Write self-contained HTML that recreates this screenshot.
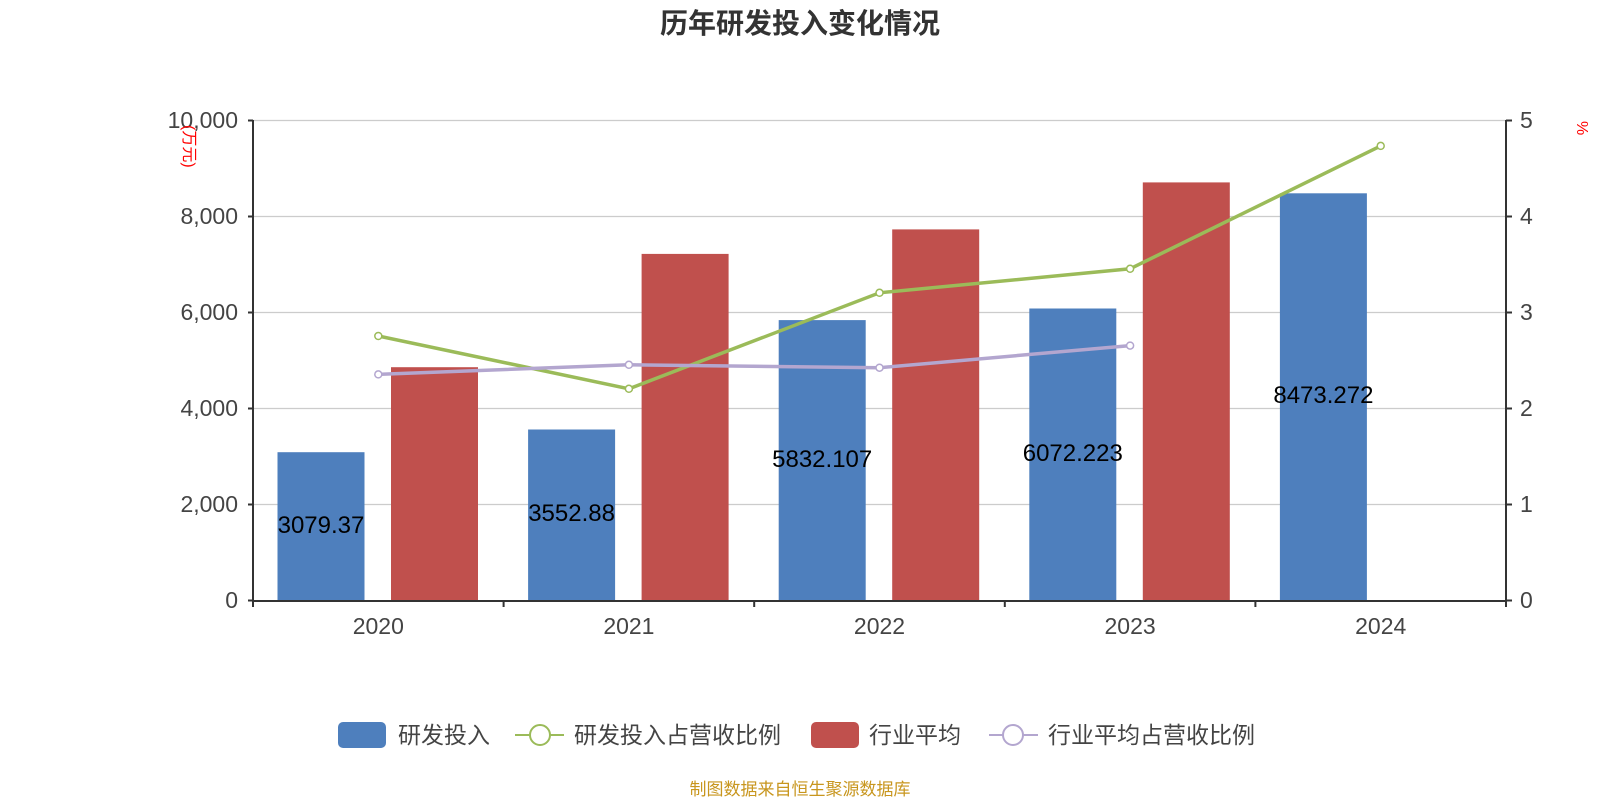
<!DOCTYPE html>
<html><head><meta charset="utf-8"><style>
body{margin:0;background:#fff}
svg{display:block;font-family:"Liberation Sans","Noto Sans CJK SC",sans-serif}
</style></head><body>
<svg width="1600" height="800" viewBox="0 0 1600 800" xmlns="http://www.w3.org/2000/svg">
<text x="800" y="33" text-anchor="middle" font-size="28" font-weight="bold" fill="#333">历年研发投入变化情况</text>
<g stroke="#ccc" stroke-width="1.3">
<line x1="253" y1="120.5" x2="1506" y2="120.5"/>
<line x1="253" y1="216.5" x2="1506" y2="216.5"/>
<line x1="253" y1="312.5" x2="1506" y2="312.5"/>
<line x1="253" y1="408.5" x2="1506" y2="408.5"/>
<line x1="253" y1="504.5" x2="1506" y2="504.5"/>
</g>
<g fill="#4e7fbd">
<rect x="277.5" y="452.2" width="87" height="147.8"/>
<rect x="528.1" y="429.5" width="87" height="170.5"/>
<rect x="778.7" y="320.1" width="87" height="279.9"/>
<rect x="1029.3" y="308.5" width="87" height="291.5"/>
<rect x="1279.9" y="193.3" width="87" height="406.7"/>
</g>
<g fill="#c0504d">
<rect x="391" y="367.2" width="87" height="232.8"/>
<rect x="641.6" y="253.9" width="87" height="346.1"/>
<rect x="892.2" y="229.4" width="87" height="370.6"/>
<rect x="1142.8" y="182.4" width="87" height="417.6"/>
</g>
<g stroke="#333" stroke-width="2" fill="none">
<line x1="253" y1="120" x2="253" y2="601"/>
<line x1="1506" y1="120" x2="1506" y2="601"/>
<line x1="252" y1="601" x2="1507" y2="601"/>
<path d="M248 120.5H253M248 216.5H253M248 312.5H253M248 408.5H253M248 504.5H253M248 600.5H253"/>
<path d="M1506 120.5H1512M1506 216.5H1512M1506 312.5H1512M1506 408.5H1512M1506 504.5H1512M1506 600.5H1512"/>
<path d="M253 601V607M503.6 601V607M754.2 601V607M1004.8 601V607M1255.4 601V607M1506 601V607"/>
</g>
<g font-size="23" fill="#444" text-anchor="end">
<text x="238" y="128">10,000</text><text x="238" y="224">8,000</text><text x="238" y="320">6,000</text>
<text x="238" y="416">4,000</text><text x="238" y="512">2,000</text><text x="238" y="608">0</text>
</g>
<g font-size="23" fill="#444">
<text x="1520" y="128">5</text><text x="1520" y="224">4</text><text x="1520" y="320">3</text>
<text x="1520" y="416">2</text><text x="1520" y="512">1</text><text x="1520" y="608">0</text>
</g>
<g font-size="23" fill="#444" text-anchor="middle">
<text x="378.3" y="634">2020</text><text x="628.9" y="634">2021</text><text x="879.5" y="634">2022</text>
<text x="1130.1" y="634">2023</text><text x="1380.7" y="634">2024</text>
</g>
<text transform="translate(184,125) rotate(90)" font-size="16" fill="red">(万元)</text>
<text transform="translate(1577,121) rotate(90)" font-size="16" fill="red">%</text>
<g font-size="24" fill="#000" text-anchor="middle">
<text x="321" y="533">3079.37</text>
<text x="571.6" y="521">3552.88</text>
<text x="822.2" y="467">5832.107</text>
<text x="1072.8" y="461">6072.223</text>
<text x="1323.4" y="403">8473.272</text>
</g>
<polyline points="378.3,336 628.9,388.8 879.5,292.8 1130.1,268.8 1380.7,145.9" fill="none" stroke="#9bbb59" stroke-width="3.5"/>
<polyline points="378.3,374.4 628.9,364.8 879.5,367.7 1130.1,345.6" fill="none" stroke="#b3a6cf" stroke-width="3.5"/>
<g fill="#fff" stroke="#9bbb59" stroke-width="1.5">
<circle cx="378.3" cy="336" r="3.5"/><circle cx="628.9" cy="388.8" r="3.5"/><circle cx="879.5" cy="292.8" r="3.5"/><circle cx="1130.1" cy="268.8" r="3.5"/><circle cx="1380.7" cy="145.9" r="3.5"/>
</g>
<g fill="#fff" stroke="#b3a6cf" stroke-width="1.5">
<circle cx="378.3" cy="374.4" r="3.5"/><circle cx="628.9" cy="364.8" r="3.5"/><circle cx="879.5" cy="367.7" r="3.5"/><circle cx="1130.1" cy="345.6" r="3.5"/>
</g>
<g font-size="23" fill="#444">
<rect x="338" y="722" width="48" height="26" rx="5" fill="#4e7fbd"/>
<text x="398" y="743">研发投入</text>
<line x1="515" y1="735" x2="564" y2="735" stroke="#9bbb59" stroke-width="2"/>
<circle cx="540" cy="735" r="10" fill="#fff" stroke="#9bbb59" stroke-width="2"/>
<text x="574" y="743">研发投入占营收比例</text>
<rect x="811" y="722" width="48" height="26" rx="5" fill="#c0504d"/>
<text x="869" y="743">行业平均</text>
<line x1="989" y1="735" x2="1038" y2="735" stroke="#b3a6cf" stroke-width="2"/>
<circle cx="1013" cy="735" r="10" fill="#fff" stroke="#b3a6cf" stroke-width="2"/>
<text x="1048" y="743">行业平均占营收比例</text>
</g>
<text x="800" y="795" text-anchor="middle" font-size="17" fill="#c8961e">制图数据来自恒生聚源数据库</text>
</svg>
</body></html>
